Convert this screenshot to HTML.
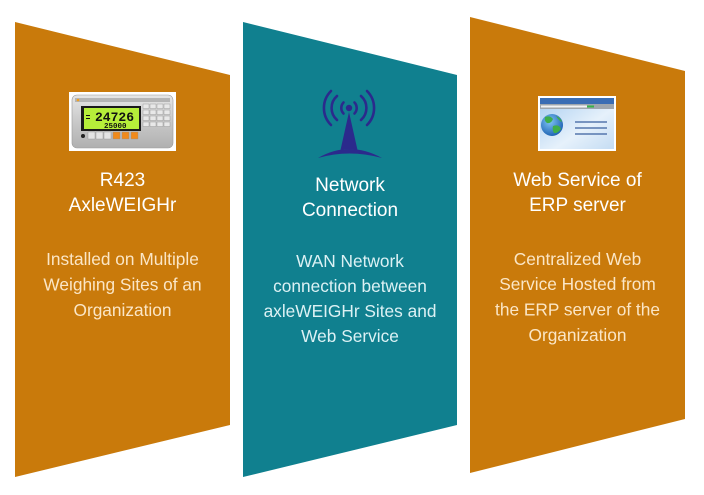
<!DOCTYPE html>
<html>
<head>
<meta charset="utf-8">
<style>
  html, body { margin: 0; padding: 0; background: #ffffff; }
  body { width: 704px; height: 495px; overflow: hidden; }
  svg { display: block; }
  .t { font-family: "Liberation Sans", "DejaVu Sans", sans-serif; font-size: 19px; fill: #ffffff; }
  .bo { font-family: "Liberation Sans", "DejaVu Sans", sans-serif; font-size: 17.3px; fill: #fbe6c6; }
  .bt { font-family: "Liberation Sans", "DejaVu Sans", sans-serif; font-size: 17.3px; fill: #dcf1f4; }
</style>
</head>
<body>
<svg width="704" height="495" viewBox="0 0 704 495" xmlns="http://www.w3.org/2000/svg">
  <defs>
    <linearGradient id="silver" x1="0" y1="0" x2="0" y2="1">
      <stop offset="0" stop-color="#e6e6e6"/>
      <stop offset="0.5" stop-color="#c9c9c9"/>
      <stop offset="1" stop-color="#b0b0b0"/>
    </linearGradient>
    <linearGradient id="webbg" x1="0" y1="0" x2="1" y2="1">
      <stop offset="0" stop-color="#a9cdf0"/>
      <stop offset="0.6" stop-color="#e6f1fb"/>
      <stop offset="1" stop-color="#c4dcf3"/>
    </linearGradient>
    <radialGradient id="globe" cx="0.4" cy="0.35" r="0.7">
      <stop offset="0" stop-color="#7fc3f5"/>
      <stop offset="1" stop-color="#1a5fb0"/>
    </radialGradient>
  </defs>

  <!-- Panels -->
  <polygon points="15,22 230,75 230,425 15,477" fill="#c97a0b"/>
  <polygon points="243,22 457,75 457,425 243,477" fill="#10808f"/>
  <polygon points="470,17 685,71 685,419 470,473" fill="#c97a0b"/>

  <!-- Device icon -->
  <rect x="69" y="92" width="107" height="59" fill="#ffffff"/>
  <rect x="72" y="95" width="101" height="53" rx="5" fill="url(#silver)" stroke="#9a9a9a" stroke-width="0.6"/>
  <rect x="75" y="98" width="95" height="4" fill="#8a8a8a" opacity="0.5"/>
  <circle cx="78" cy="100" r="1.3" fill="#f0a020"/>
  <rect x="81" y="106" width="60" height="25" fill="#1a1a1a"/>
  <rect x="84" y="108" width="55" height="21" fill="#b6ee3a"/>
  <text x="95" y="121" font-family="Liberation Mono, monospace" font-size="13" font-weight="bold" fill="#111">24726</text>
  <text x="104" y="128" font-family="Liberation Mono, monospace" font-size="7.5" font-weight="bold" fill="#111">25000</text>
  <rect x="86" y="115" width="4" height="1" fill="#111"/>
  <rect x="86" y="118" width="4" height="1" fill="#111"/>
  <g fill="#e8e8e8" stroke="#909090" stroke-width="0.4">
    <rect x="143" y="104" width="6" height="4.5"/><rect x="150" y="104" width="6" height="4.5"/><rect x="157" y="104" width="6" height="4.5"/><rect x="164" y="104" width="6" height="4.5"/>
    <rect x="143" y="110" width="6" height="4.5"/><rect x="150" y="110" width="6" height="4.5"/><rect x="157" y="110" width="6" height="4.5"/><rect x="164" y="110" width="6" height="4.5"/>
    <rect x="143" y="116" width="6" height="4.5"/><rect x="150" y="116" width="6" height="4.5"/><rect x="157" y="116" width="6" height="4.5"/><rect x="164" y="116" width="6" height="4.5"/>
    <rect x="143" y="122" width="6" height="4.5"/><rect x="150" y="122" width="6" height="4.5"/><rect x="157" y="122" width="6" height="4.5"/><rect x="164" y="122" width="6" height="4.5"/>
  </g>
  <circle cx="83" cy="136" r="2" fill="#222"/>
  <g stroke="#909090" stroke-width="0.4">
    <rect x="88" y="132" width="7" height="7" fill="#e4e4e4"/>
    <rect x="96" y="132" width="7" height="7" fill="#e4e4e4"/>
    <rect x="104" y="132" width="7" height="7" fill="#e4e4e4"/>
    <rect x="113" y="132" width="7" height="7" fill="#f08a1c"/>
    <rect x="122" y="132" width="7" height="7" fill="#f08a1c"/>
    <rect x="131" y="132" width="7" height="7" fill="#f08a1c"/>
  </g>

  <!-- Antenna icon -->
  <g fill="none" stroke="#2b2a8c" stroke-width="2.6" stroke-linecap="round">
    <path d="M343.5,102.5 A8,8 0 0 0 343.5,113.5"/>
    <path d="M354.5,102.5 A8,8 0 0 1 354.5,113.5"/>
    <path d="M337,96 A16,16 0 0 0 337,120"/>
    <path d="M361,96 A16,16 0 0 1 361,120"/>
    <path d="M331,91 A24,24 0 0 0 331,125"/>
    <path d="M367,91 A24,24 0 0 1 367,125"/>
  </g>
  <circle cx="349" cy="108" r="3.2" fill="#2b2a8c"/>
  <path d="M349,112 L357.5,150 Q349,148 340.5,150 Z" fill="#2b2a8c"/>
  <path d="M318,158 Q349,140 382,158 Q349,149 318,158 Z" fill="#2b2a8c"/>

  <!-- Web icon -->
  <rect x="538" y="96" width="78" height="55" fill="#ffffff"/>
  <rect x="540" y="98" width="74" height="51" fill="url(#webbg)"/>
  <rect x="540" y="98" width="74" height="6" fill="#3a6db4"/>
  <rect x="540" y="104" width="74" height="5" fill="#9ea6ae"/>
  <rect x="541" y="105.5" width="50" height="2" fill="#f2f2f2"/>
  <rect x="587" y="105.5" width="7" height="2" fill="#38b24a"/>
  <circle cx="552" cy="125" r="11" fill="url(#globe)"/>
  <path d="M545,117 Q550,115 553,119 Q551,124 547,123 Q544,121 545,117 Z" fill="#3fae4a"/>
  <path d="M553,126 Q559,124 561,129 Q557,134 554,133 Q552,130 553,126 Z" fill="#3fae4a"/>
  <path d="M556,116 Q561,118 562,122 Q559,121 556,116 Z" fill="#3fae4a"/>
  <g stroke="#5577ad" stroke-width="1.4">
    <line x1="575" y1="122" x2="607" y2="122"/>
    <line x1="575" y1="128" x2="607" y2="128"/>
    <line x1="575" y1="134" x2="607" y2="134"/>
  </g>

  <!-- Left text -->
  <text class="t" x="122.5" y="186" text-anchor="middle">R423</text>
  <text class="t" x="122.5" y="211" text-anchor="middle">AxleWEIGHr</text>
  <text class="bo" x="122.5" y="265" text-anchor="middle">Installed on Multiple</text>
  <text class="bo" x="122.5" y="290.5" text-anchor="middle">Weighing Sites of an</text>
  <text class="bo" x="122.5" y="316" text-anchor="middle">Organization</text>

  <!-- Middle text -->
  <text class="t" x="350" y="191" text-anchor="middle">Network</text>
  <text class="t" x="350" y="216" text-anchor="middle">Connection</text>
  <text class="bt" x="350" y="267" text-anchor="middle">WAN Network</text>
  <text class="bt" x="350" y="292" text-anchor="middle">connection between</text>
  <text class="bt" x="350" y="317" text-anchor="middle">axleWEIGHr Sites and</text>
  <text class="bt" x="350" y="342" text-anchor="middle">Web Service</text>

  <!-- Right text -->
  <text class="t" x="577.5" y="186" text-anchor="middle">Web Service of</text>
  <text class="t" x="577.5" y="211" text-anchor="middle">ERP server</text>
  <text class="bo" x="577.5" y="265" text-anchor="middle">Centralized Web</text>
  <text class="bo" x="577.5" y="290" text-anchor="middle">Service Hosted from</text>
  <text class="bo" x="577.5" y="315.5" text-anchor="middle">the ERP server of the</text>
  <text class="bo" x="577.5" y="341" text-anchor="middle">Organization</text>
</svg>
</body>
</html>
